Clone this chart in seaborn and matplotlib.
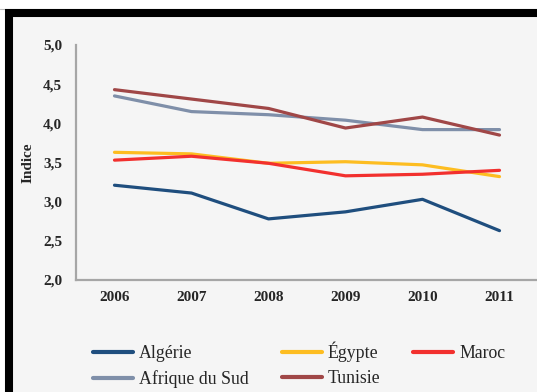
import matplotlib
matplotlib.use("Agg")
import matplotlib.pyplot as plt
from matplotlib.patches import Rectangle
import pandas as pd
import seaborn as sns

years = ["2006", "2007", "2008", "2009", "2010", "2011"]
algerie = [3.21, 3.11, 2.78, 2.87, 3.03, 2.63]
egypte = [3.63, 3.61, 3.49, 3.51, 3.47, 3.32]
maroc = [3.53, 3.58, 3.49, 3.33, 3.35, 3.40]
afrique_du_sud = [4.35, 4.15, 4.11, 4.04, 3.92, 3.92]
tunisie = [4.43, 4.31, 4.19, 3.94, 4.08, 3.85]

series_names = ["Algérie", "Égypte", "Maroc", "Afrique du Sud", "Tunisie"]
series_values = [algerie, egypte, maroc, afrique_du_sud, tunisie]
colors = ["#1F4E7E", "#FDBD21", "#F2302E", "#7F8FA9", "#A04747"]
y_ticks = [2.0, 2.5, 3.0, 3.5, 4.0, 4.5, 5.0]

df = pd.DataFrame(
    [(name, y, v) for name, vals in zip(series_names, series_values)
     for y, v in zip(years, vals)],
    columns=["pays", "annee", "indice"],
)
df["x"] = df["annee"].map({y: i for i, y in enumerate(years)})

sns.set_style("white")
plt.rcParams["font.family"] = ["Liberation Serif", "DejaVu Serif"]

W, H = 537, 392
fig = plt.figure(figsize=(W / 100, H / 100), dpi=100, facecolor="white")

# frame: light panel with a heavy black border on the top and left
bx, by = 9, 13
frame = Rectangle((bx / W, -0.2), 1.3, 1.2 - by / H, transform=fig.transFigure,
                  facecolor="#F5F5F5", edgecolor="black", linewidth=5.8,
                  zorder=0)
fig.add_artist(frame)
fig.add_artist(plt.Line2D([0, 1], [1 - 9 / H, 1 - 9 / H], transform=fig.transFigure,
                          color="#BBBBBB", linewidth=0.8, zorder=-1))

ax = fig.add_axes([76 / W, 112 / H, 462 / W, 235 / H])
ax.set_facecolor("none")

palette = dict(zip(series_names, colors))
sns.lineplot(data=df, x="x", y="indice", hue="pays", hue_order=series_names,
             palette=palette, linewidth=2.3, ax=ax, legend=False)

ax.set_xlim(-0.5, len(years) - 0.5)
ax.set_ylim(2.0, 5.0)
ax.set_xticks(range(len(years)))
ax.set_xticklabels(years, fontsize=11, fontweight="bold")
ax.set_yticks(y_ticks)
ax.set_yticklabels([f"{t:.1f}".replace(".", ",") for t in y_ticks],
                   fontsize=11, fontweight="bold")
ax.tick_params(axis="both", length=0)
ax.tick_params(axis="x", pad=8)
ax.tick_params(axis="y", pad=10)
ax.set_xlabel("")
ax.set_ylabel("Indice", fontsize=11, fontweight="bold", labelpad=6)

for side in ["top", "right"]:
    ax.spines[side].set_visible(False)
for side in ["left", "bottom"]:
    ax.spines[side].set_color("#A6A6A6")
    ax.spines[side].set_linewidth(1.6)

handles = [plt.Line2D([], [], color=c, linewidth=3.0, solid_capstyle="round")
           for c in colors]
order = [0, 3, 1, 4, 2]
fig.legend([handles[i] for i in order], [series_names[i] for i in order],
           ncol=3, loc="center left", bbox_to_anchor=(84 / W, 1 - 365 / H),
           frameon=False, fontsize=12.8, handlelength=2.25, handletextpad=0.35,
           columnspacing=1.85, labelspacing=0.45, borderpad=0)

fig.savefig("out.png", dpi=100, facecolor="white")
